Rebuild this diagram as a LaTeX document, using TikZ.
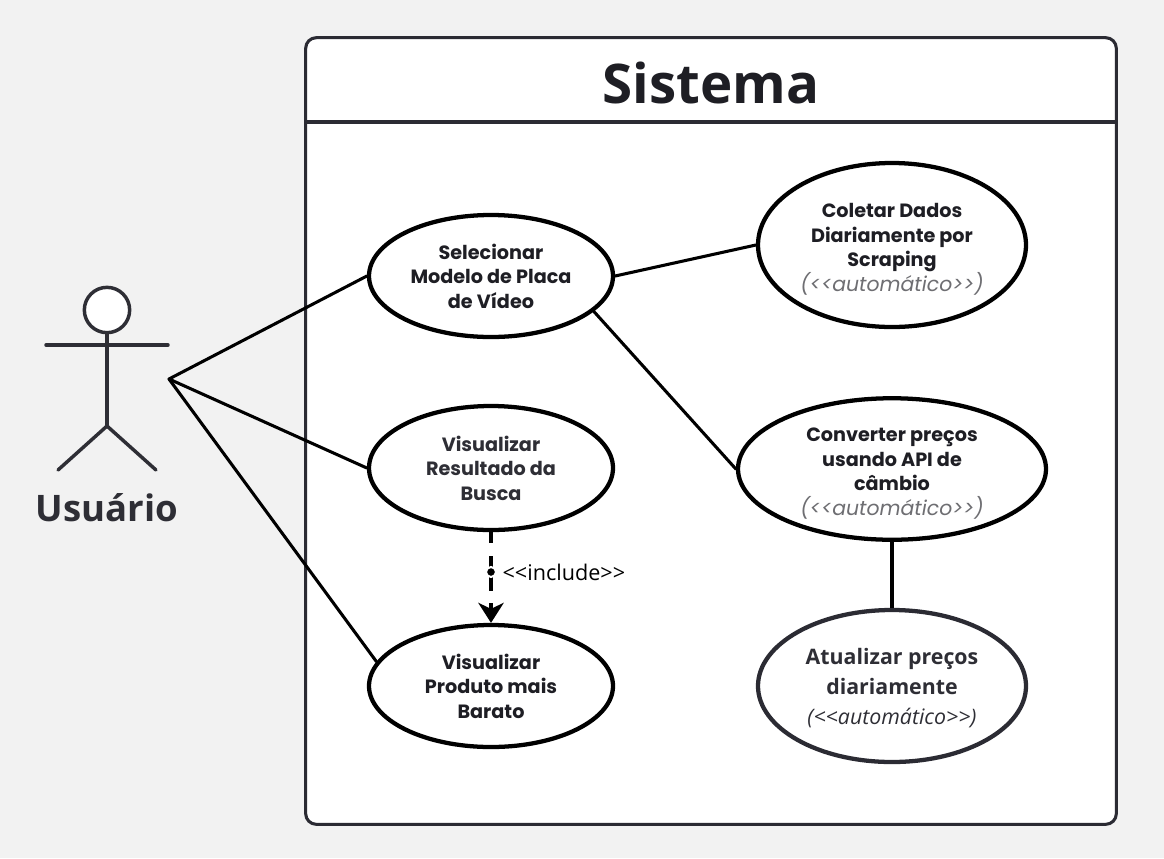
\documentclass[tikz,border=0pt]{standalone}
\usepackage{fontspec}
\setmainfont{Open Sans}
\newfontfamily\popfont{Poppins}
\usepackage{xcolor}
\usetikzlibrary{positioning, arrows.meta, calc, shapes.geometric}
\definecolor{bgc}{HTML}{F2F2F2}
\definecolor{framec}{HTML}{2B2B33}
\definecolor{char}{HTML}{1E1E24}
\definecolor{softc}{HTML}{2E2E35}
\definecolor{autoc}{HTML}{6E6E72}
\tikzset{
  usecase/.style={draw=black, fill=white, ellipse, line width=3.2pt, inner sep=0pt,
                  align=center, text=char, font=\popfont\fontsize{14.4}{18.4}\selectfont\bfseries},
  softcase/.style={usecase, draw=framec, text=softc,
                   font=\fontsize{16}{22.5}\selectfont\bfseries},
  assoc/.style={draw=black, line width=2.3pt, line cap=round},
  limb/.style={draw=softc, line width=2.6pt, line cap=round},
}
\newcommand{\autotag}{{\popfont\mdseries\itshape\fontsize{15.3}{18.4}\selectfont\textcolor{autoc}{(<{}<automático>{}>)}}}
\newcommand{\lowerfirst}{\rule{0pt}{17pt}}
\begin{document}
\begin{tikzpicture}[x=0.75pt, y=-0.75pt]
  \fill[bgc] (0,0) rectangle (1164,858);
  % system frame
  \node[draw=framec, fill=white, line width=2.3pt, rounded corners=8pt, minimum width=608pt,
        minimum height=590pt, inner sep=0pt] (frame) at (711,431) {};
  \node[font=\fontsize{41}{50}\selectfont\bfseries, text=char] (title) at (711,83) {Sistema};
  \coordinate (hl) at (306,122);
  \coordinate (hr) at (1116,122);
  \draw[draw=framec, line width=2.3pt] (hl) -- (hr);
  % use cases
  \node[usecase, minimum width=183pt, minimum height=91.5pt] (sel) at (491,276)
    {Selecionar\\Modelo de Placa\\de Vídeo};
  \node[usecase, minimum width=183pt, minimum height=93pt, text=softc] (res) at (491,468)
    {Visualizar\\Resultado da\\Busca};
  \node[usecase, minimum width=183pt, minimum height=91.5pt] (prod) at (491,686)
    {Visualizar\\Produto mais\\Barato};
  \node[usecase, minimum width=201pt, minimum height=123pt] (col) at (892,245)
    {\lowerfirst Coletar Dados\\Diariamente por\\Scraping\\\autotag};
  \node[usecase, minimum width=231pt, minimum height=103pt] (conv) at (892,469)
    {\lowerfirst Converter preços\\usando API de\\câmbio\\\autotag};
  \node[softcase, minimum width=201pt, minimum height=114pt] (upd) at (892,686)
    {\rule{0pt}{16pt}Atualizar preços\\diariamente\\{\mdseries\itshape\fontsize{16}{22.5}\selectfont (<{}<automático>{}>)}};
  % actor
  \node[circle, draw=softc, fill=white, line width=2.6pt, minimum size=34pt, inner sep=0pt] (head) at (107,310) {};
  \coordinate (armL) at (46,345);
  \coordinate (armR) at (168,345);
  \coordinate (hip) at (107,426);
  \coordinate (footL) at (58,470);
  \coordinate (footR) at (156,470);
  \coordinate (hub) at (169,379);
  \draw[limb] (head) -- (hip);
  \draw[limb] (armL) -- (armR);
  \draw[limb] (footL) -- (hip) -- (footR);
  \node[font=\fontsize{27.4}{30}\selectfont\bfseries, text=softc] (user) at (107,508) {Usuário};
  % connectors
  \draw[assoc] (hub) -- (sel.180);
  \draw[assoc] (hub) -- (res.180);
  \draw[assoc] (hub) -- (prod.168);
  \draw[assoc] (sel.0) -- (col.180);
  \draw[assoc] (sel.-19) -- (conv.180);
  \draw[draw=black, line width=2.6pt] (conv.south) -- (upd.north);
  % include
  \draw[draw=black, line width=2.6pt, dash pattern=on 8.5pt off 9.5pt on 26pt off 9.5pt on 20pt,
        -{Stealth[length=15pt, width=19pt, inset=4.5pt]}] (res.south) -- (prod.north);
  \node[circle, fill=black, draw=white, line width=1.5pt, inner sep=0pt, minimum size=7.5pt] (dot) at (491,572) {};
  \node[right=4pt of dot, font=\fontsize{16.2}{18}\selectfont, text=black, inner sep=0pt] (inc) {<{}<include>{}>};
\end{tikzpicture}
\end{document}
